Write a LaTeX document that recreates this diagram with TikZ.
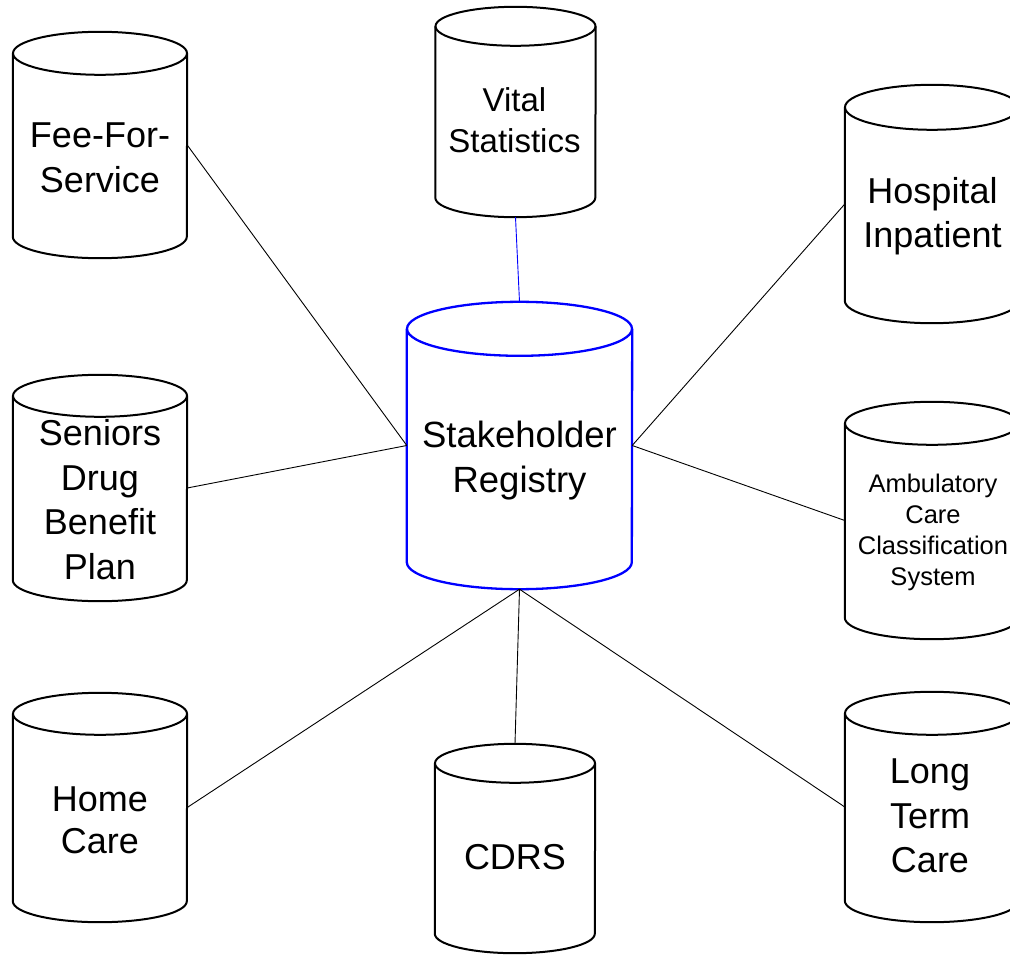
\documentclass[tikz,border=0pt]{standalone}
\usepackage{fontspec}
\setmainfont{Liberation Sans}
\usetikzlibrary{calc}
% drum outline round a named store node: (node)(x radius:y radius)
\def\drum[#1](#2)(#3:#4){%
	\draw[#1] ($(#2.north)+(0,-#4)$) ellipse (#3 and #4);
	\draw[#1] ($(#2.north west)+(0,-#4)$) -- ($(#2.south west)+(0,#4)$)
		arc (180:360:#3 and #4) -- ($(#2.north east)+(0,-#4)$);}

\begin{document}
\begin{tikzpicture}[x=1pt, y=1pt,
		store/.style={rectangle, inner sep=0pt, minimum width=174, minimum height=#1},
		drumline/.style={line width=2pt, color=black},
		link/.style={line width=0.9pt, color=black},
		lbl/.style={align=center, inner sep=0pt, font=\fontsize{36}{44.5}\selectfont}]
		%%%%% START %%%%%
		
		\useasboundingbox (0,0) rectangle (1010,-955);
		\clip (0,0) rectangle (1010,-955);
		
		% the registry in the middle
		\node[store=287, minimum width=225] (stake) at (519.5,-445.5) {};
		\drum[line width=2.3pt, color=blue](stake)(112.5:27);
		\node[lbl, font=\fontsize{36.5}{45}\selectfont] (stakeT) at (519.5,-461) {Stakeholder\\Registry};
		
		% left column
		\node[store=226] (fee) at (100,-145) {};
		\drum[drumline](fee)(87:21.5);
		\node[lbl] (feeT) at (100,-158) {Fee-For-\\Service};
		
		\node[store=226] (seniors) at (100,-488) {};
		\drum[drumline](seniors)(87:21);
		\node[lbl] (seniorsT) at (100,-499.5) {Seniors\\Drug\\Benefit\\Plan};
		
		\node[store=229] (home) at (100,-807.5) {};
		\drum[drumline](home)(87:21);
		\node[lbl, font=\fontsize{36}{42}\selectfont] (homeT) at (100,-820) {Home\\Care};
		
		% middle column
		\node[store=210, minimum width=160] (vital) at (515.5,-112) {};
		\drum[drumline](vital)(80:19.5);
		\node[lbl, font=\fontsize{33}{41}\selectfont] (vitalT) at (514.5,-120) {Vital\\Statistics};
		
		\node[store=209, minimum width=160] (cdrs) at (515,-848.5) {};
		\drum[drumline](cdrs)(80:19.5);
		\node[lbl] (cdrsT) at (515,-857) {CDRS};
		
		% right column
		\node[store=238] (hosp) at (932,-204) {};
		\drum[drumline](hosp)(87:22.5);
		\node[lbl] (hospT) at (932.5,-216) {Hospital\\Inpatient};
		
		\node[store=237] (amb) at (932,-520.5) {};
		\drum[drumline](amb)(87:21.5);
		\node[lbl, font=\fontsize{25.5}{31}\selectfont] (ambT) at (933,-532.5) {Ambulatory\\Care\\Classification\\System};
		
		\node[store=230] (ltc) at (932,-807) {};
		\drum[drumline](ltc)(87:21.5);
		\node[lbl, font=\fontsize{36}{44.5}\selectfont] (ltcT) at (930,-816) {Long\\Term\\Care};
		
		% feeds into the registry
		\draw[link] (fee.east) -- (stake.west);
		\draw[link] (seniors.east) -- (stake.west);
		\draw[link] (home.east) -- (stake.south);
		\draw[link] (cdrs.north) -- (stake.south);
		\draw[link] (ltc.west) -- (stake.south);
		\draw[link] (amb.west) -- (stake.east);
		\draw[link] (hosp.west) -- (stake.east);
		\draw[link, color=blue] (vital.south) -- (stake.north);
		
		%%%%% END %%%%%
	\end{tikzpicture}
\end{document}
